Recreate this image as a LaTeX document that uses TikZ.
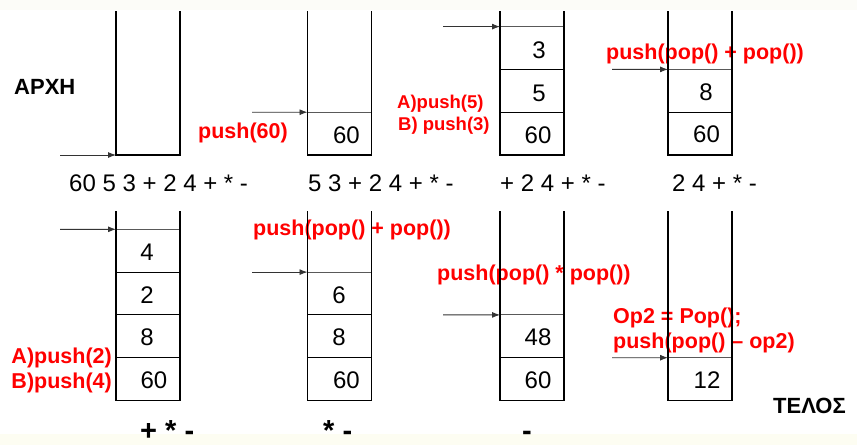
\documentclass[tikz,border=0pt]{standalone}
\usepackage{fontspec}
\setmainfont{Liberation Sans}
\usetikzlibrary{arrows.meta}
\begin{document}
\begin{tikzpicture}[x=1pt,y=-1pt,
  wall/.style={line width=1.8pt, line cap=butt, line join=miter},
  cellbox/.style={draw, line width=0.9pt, minimum width=64pt, minimum height=42.8pt, inner sep=0pt, outer sep=0pt, anchor=south west},
  topline/.style={draw=black!65, line width=0.9pt},
  ptr/.style={draw=black!80, line width=0.9pt, -{Latex[length=8pt,width=6pt]}},
  num/.style={font=\fontsize{24}{28}\selectfont, inner sep=0pt},
  seq/.style={font=\fontsize{24}{28}\selectfont, inner sep=0pt, anchor=base west},
  redlbl/.style={text=red, font=\bfseries\fontsize{21.5}{24}\selectfont, inner sep=0pt, anchor=base west},
  smallred/.style={redlbl, font=\bfseries\fontsize{18.5}{22}\selectfont},
  title/.style={font=\bfseries\fontsize{22}{26}\selectfont, inner sep=0pt, anchor=base west},
  ops/.style={font=\bfseries\fontsize{29}{32}\selectfont, inner sep=0pt, anchor=base west}
]
\useasboundingbox (0,0) rectangle (857,445);
\fill[white] (0,0) rectangle (857,445);
\fill[fill={rgb,255:red,252;green,252;blue,248}] (0,0) rectangle (857,10);
\fill[fill={rgb,255:red,253;green,253;blue,242}] (0,434) rectangle (857,445);

% ---------- texts ----------
\node[title] (start) at (14,94) {ΑΡΧΗ};
\node[title] (end) at (773,413) {ΤΕΛΟΣ};
\node[redlbl] (l1) at (198,138) {push(60)};
\node[smallred] (l2a) at (397,108) {A)push(5)};
\node[smallred] (l2b) at (398,130) {B) push(3)};
\node[redlbl] (l3) at (606,59) {push(pop() + pop())};
\node[redlbl, anchor=base east] (l4a) at (112,363) {A)push(2)};
\node[redlbl, anchor=base east] (l4b) at (112,388) {B)push(4)};
\node[redlbl] (l5) at (253,235) {push(pop() + pop())};
\node[redlbl] (l6) at (437,280) {push(pop() * pop())};
\node[redlbl] (l7a) at (613,323) {Op2 = Pop();};
\node[redlbl] (l7b) at (613,348) {push(pop() – op2)};

\node[seq] (q1) at (69,191) {60 5 3 + 2 4 + * -};
\node[seq] (q2) at (308,191) {5 3 + 2 4 + * -};
\node[seq] (q3) at (500,191) {+ 2 4 + * -};
\node[seq] (q4) at (672,191) {2 4 + * -};
\node[ops] (o1) at (140,440) {+ * -};
\node[ops] (o2) at (323,440) {* -};
\node[ops] (o3) at (522,440) {-};

% ---------- top row cells ----------
\node[cellbox] (t2c1) at (307.5,155) {};
\node[cellbox] (t3c1) at (500,155) {};
\node[cellbox] (t3c2) at (500,112.2) {};
\node[cellbox] (t3c3) at (500,69.4) {};
\node[cellbox] (t4c1) at (668,155) {};
\node[cellbox] (t4c2) at (668,112.2) {};

% ---------- bottom row cells ----------
\node[cellbox] (b1c1) at (116,400.5) {};
\node[cellbox] (b1c2) at (116,357.7) {};
\node[cellbox] (b1c3) at (116,314.9) {};
\node[cellbox] (b1c4) at (116,272.1) {};
\node[cellbox] (b2c1) at (307.5,400.5) {};
\node[cellbox] (b2c2) at (307.5,357.7) {};
\node[cellbox] (b2c3) at (307.5,314.9) {};
\node[cellbox] (b3c1) at (500,400.5) {};
\node[cellbox] (b3c2) at (500,357.7) {};
\node[cellbox] (b4c1) at (668,400.5) {};

% top-of-stack lines
\foreach \c in {t2c1,t3c3,t4c2,b1c4,b2c3,b3c2,b4c1}
  \draw[topline] (\c.north west) -- (\c.north east);

% ---------- numbers ----------
\node[num] (n1) at (346.5,135) {60};
\node[num] (n2) at (539,50) {3};
\node[num] (n3) at (539,93) {5};
\node[num] (n4) at (538,135) {60};
\node[num] (n5) at (706,92) {8};
\node[num] (n6) at (706.5,134.5) {60};
\node[num] (n7) at (147,252) {4};
\node[num] (n8) at (147,295) {2};
\node[num] (n9) at (147,337) {8};
\node[num] (n10) at (154,380) {60};
\node[num] (n11) at (339,295) {6};
\node[num] (n12) at (339,337) {8};
\node[num] (n13) at (346.5,380) {60};
\node[num] (n14) at (538,337) {48};
\node[num] (n15) at (538,380) {60};
\node[num] (n16) at (707,380) {12};

% ---------- stack walls ----------
\draw[wall] (116,11) -- (116,155) -- (180,155) -- (180,11);
\draw[wall] (307.5,11) -- (307.5,155) -- (371.5,155) -- (371.5,11);
\draw[wall] (500,11) -- (500,155) -- (564,155) -- (564,11);
\draw[wall] (668,11) -- (668,155) -- (732,155) -- (732,11);
\draw[wall] (116,211) -- (116,400.5) -- (180,400.5) -- (180,211);
\draw[wall] (307.5,211) -- (307.5,400.5) -- (371.5,400.5) -- (371.5,211);
\draw[wall] (500,211) -- (500,400.5) -- (564,400.5) -- (564,211);
\draw[wall] (668,211) -- (668,400.5) -- (732,400.5) -- (732,211);

% ---------- pointers ----------
\coordinate (t1tip) at (116,155);
\coordinate (a1) at (60,155);
\coordinate (a2) at (252,112.2);
\coordinate (a3) at (443,26.6);
\coordinate (a4) at (612,69.4);
\coordinate (a5) at (60,229.3);
\coordinate (a6) at (252,272.1);
\coordinate (a7) at (443,314.9);
\coordinate (a8) at (612,357.7);
\draw[ptr] (a1) -- (t1tip);
\draw[ptr] (a2) -- (t2c1.north west);
\draw[ptr] (a3) -- (t3c3.north west);
\draw[ptr] (a4) -- (t4c2.north west);
\draw[ptr] (a5) -- (b1c4.north west);
\draw[ptr] (a6) -- (b2c3.north west);
\draw[ptr] (a7) -- (b3c2.north west);
\draw[ptr] (a8) -- (b4c1.north west);
\end{tikzpicture}
\end{document}
